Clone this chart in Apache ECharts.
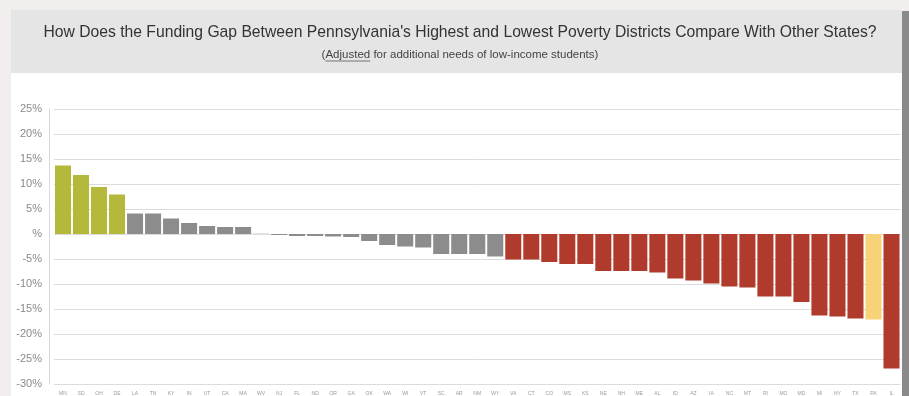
<!DOCTYPE html>
<html>
<head>
<meta charset="utf-8">
<script src="https://cdn.jsdelivr.net/npm/echarts@6/dist/echarts.min.js"></script>
<style>
html,body{margin:0;padding:0;background:#f3eeee;}
#chart{width:909px;height:396px;}
</style>
</head>
<body>
<div id="chart"></div>
<script>
const states = ['MN','SD','OH','DE','LA','TN','KY','IN','UT','CA','MA','WV','NJ','FL','ND','OR','GA','OK','WA','WI','VT','SC','AR','NM','WY','VA','CT','CO','MS','KS','NE','NH','ME','AL','ID','AZ','IA','NC','MT','RI','MO','MD','MI','NY','TX','PA','IL'];
const gapValues = [13.7,11.8,9.4,7.9,4.1,4.1,3.1,2.2,1.6,1.4,1.4,0.05,-0.2,-0.4,-0.4,-0.5,-0.6,-1.4,-2.2,-2.5,-2.7,-4.0,-4.0,-4.0,-4.5,-5.1,-5.1,-5.6,-6.0,-6.0,-7.4,-7.4,-7.4,-7.7,-8.9,-9.3,-9.9,-10.5,-10.7,-12.5,-12.5,-13.6,-16.3,-16.5,-16.9,-17.1,-26.9];
const yTicks = {min:-30, max:25, interval:5};
const highlightState = 'PA';
const titleText = "How Does the Funding Gap Between Pennsylvania's Highest and Lowest Poverty Districts Compare With Other States?";
const subPre = '(';
const subUnder = 'Adjusted';
const subPost = ' for additional needs of low-income students)';

const GREEN = '#b4b83b', GRAY = '#8c8c8c', RED = '#b03a2c', YELLOW = '#f8d276';
function colorFor(state, v){
  if (state === highlightState) return YELLOW;
  if (v >= 5) return GREEN;
  if (v > -5) return GRAY;
  return RED;
}

const chart = echarts.init(document.getElementById('chart'), null, {renderer:'canvas'});

const cv = document.createElement('canvas').getContext('2d');
const subFont = '11.5px "Liberation Sans", Arial';
cv.font = subFont;
const wPre = cv.measureText(subPre).width;
const wUnder = cv.measureText(subUnder).width;
const wAll = cv.measureText(subPre + subUnder + subPost).width;
const subCx = 460, subY = 55;
const subLeft = subCx - wAll/2;

chart.setOption({
  animation:false,
  backgroundColor:'#f3eeee',
  graphic:[
    {type:'rect', shape:{x:11,y:10,width:891,height:386}, style:{fill:'#ffffff'}, z:-10},
    {type:'rect', shape:{x:11,y:10,width:891,height:63}, style:{fill:'#e5e5e5'}, z:-9},
    {type:'rect', shape:{x:902,y:11,width:7,height:385}, style:{fill:'#8a8a8a'}, z:-9},
    {type:'text', x:460, y:33, style:{text:titleText, fill:'#333333', font:'15.7px "Liberation Sans", Arial', align:'center', verticalAlign:'middle'}},
    {type:'text', x:subLeft, y:subY, style:{text:subPre + subUnder + subPost, fill:'#444444', font:subFont, align:'left', verticalAlign:'middle'}},
    {type:'line', shape:{x1:subLeft + wPre, y1:subY+6, x2:subLeft + wPre + wUnder, y2:subY+6}, style:{stroke:'#555555', lineWidth:0.8}}
  ],
  grid:{left:54, right:8.5, top:109, bottom:12, containLabel:false},
  xAxis:{
    type:'category', data:states,
    axisLine:{show:false, onZero:false}, axisTick:{show:false},
    axisLabel:{interval:0, fontSize:5, color:'#9a9a9a', margin:7, fontFamily:'Liberation Sans'}
  },
  yAxis:{
    type:'value', min:yTicks.min, max:yTicks.max, interval:yTicks.interval, offset:5,
    axisLine:{show:true, lineStyle:{color:'#d9d9d9'}}, axisTick:{show:false},
    splitLine:{lineStyle:{color:'#dcdcdc', width:1}},
    axisLabel:{fontSize:11, color:'#8a8a8a', margin:7, fontFamily:'Liberation Sans',
      formatter: v => v === 0 ? '%' : v + '%'}
  },
  series:[{
    type:'bar', barCategoryGap:'11%',
    data: gapValues.map((v,i)=>({value:v, itemStyle:{color:colorFor(states[i], v)}}))
  }]
});
</script>
</body>
</html>
